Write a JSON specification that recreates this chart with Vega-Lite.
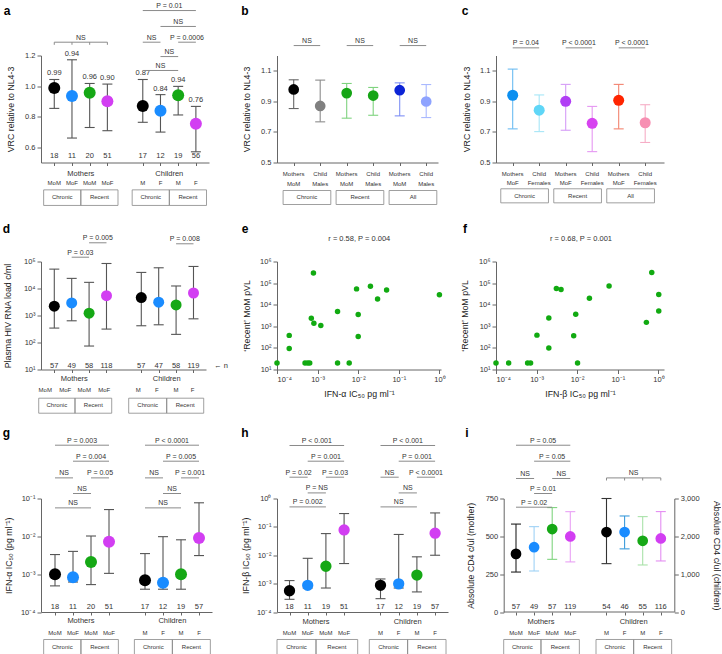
{
"$schema":"https://vega.github.io/schema/vega-lite/v6.json",
"padding":{"left":2,"top":1.5,"right":0,"bottom":0},
"config":{"font":"Liberation Sans","view":{"stroke":null},
 "axis":{"domainColor":"#666","tickColor":"#666","labelColor":"#333","titleColor":"#222","labelFontSize":7.5,"titleFontSize":8.8,"titleFontWeight":"normal","grid":false,"tickSize":4,"labelPadding":2,"domainWidth":1,"tickWidth":1,"labelFont":"Liberation Sans","titleFont":"Liberation Sans","labelOverlap":false},
 "text":{"font":"Liberation Sans"}},
"datasets":{
 "a":[
  {"x":1,"grp":"Chronic, male","cat":"MoM","mean":0.987,"lo":0.854,"hi":1.043,"n":"18","lab":"0.99"},
  {"x":2,"grp":"Chronic, female","cat":"MoF","mean":0.935,"lo":0.66,"hi":1.172,"n":"11","lab":"0.94"},
  {"x":3,"grp":"Recent, male","cat":"MoM","mean":0.957,"lo":0.729,"hi":1.017,"n":"20","lab":"0.96"},
  {"x":4,"grp":"Recent, female","cat":"MoF","mean":0.90,"lo":0.708,"hi":1.013,"n":"51","lab":"0.90"},
  {"x":6,"grp":"Chronic, male","cat":"M","mean":0.869,"lo":0.763,"hi":1.043,"n":"17","lab":"0.87"},
  {"x":7,"grp":"Chronic, female","cat":"F","mean":0.839,"lo":0.699,"hi":0.944,"n":"12","lab":"0.84"},
  {"x":8,"grp":"Recent, male","cat":"M","mean":0.94,"lo":0.811,"hi":0.998,"n":"19","lab":"0.94"},
  {"x":9,"grp":"Recent, female","cat":"F","mean":0.753,"lo":0.57,"hi":0.867,"n":"56","lab":"0.76"}],
 "aBr":[
  {"x1":1,"x2":4,"xm":2.5,"y":1.287,"t":"NS"},
  {"x1":6,"x2":9,"xm":7.5,"y":1.494,"t":"P = 0.01"},
  {"x1":7,"x2":9,"xm":8,"y":1.39,"t":"NS"},
  {"x1":6,"x2":7,"xm":6.5,"y":1.287,"t":"NS"},
  {"x1":8,"x2":9,"xm":8.5,"y":1.287,"t":"P = 0.0006"},
  {"x1":7,"x2":8,"xm":7.5,"y":1.193,"t":"NS"},
  {"x1":6,"x2":8,"xm":7,"y":1.102,"t":"NS"}],
 "aDrop":[{"x":1,"y1":1.287,"y2":1.27},{"x":2,"y1":1.287,"y2":1.27},{"x":3,"y1":1.287,"y2":1.27},{"x":4,"y1":1.287,"y2":1.27}],
 "aGrp":[{"x":2.5,"t":"Mothers"},{"x":7.5,"t":"Children"}],
 "aBox":[{"x1":0.4,"x2":2.5,"xm":1.45,"t":"Chronic"},{"x1":2.5,"x2":4.6,"xm":3.55,"t":"Recent"},{"x1":5.4,"x2":7.5,"xm":6.45,"t":"Chronic"},{"x1":7.5,"x2":9.6,"xm":8.55,"t":"Recent"}],
 "b":[
  {"x":1,"grp":"Mothers, chronic","l1":"Mothers","l2":"MoM","mean":0.978,"lo":0.853,"hi":1.041},
  {"x":2,"grp":"Child, chronic","l1":"Child","l2":"Males","mean":0.870,"lo":0.766,"hi":1.039},
  {"x":3,"grp":"Mothers, recent","l1":"Mothers","l2":"MoM","mean":0.954,"lo":0.790,"hi":1.017},
  {"x":4,"grp":"Child, recent","l1":"Child","l2":"Males","mean":0.938,"lo":0.809,"hi":0.991},
  {"x":5,"grp":"Mothers, all","l1":"Mothers","l2":"MoM","mean":0.973,"lo":0.805,"hi":1.021},
  {"x":6,"grp":"Child, all","l1":"Child","l2":"Males","mean":0.899,"lo":0.794,"hi":1.010}],
 "bBr":[{"x1":1,"x2":2,"xm":1.5,"y":1.265,"t":"NS"},{"x1":3,"x2":4,"xm":3.5,"y":1.265,"t":"NS"},{"x1":5,"x2":6,"xm":5.5,"y":1.265,"t":"NS"}],
 "bBox":[{"x1":0.6,"x2":2.4,"xm":1.5,"t":"Chronic"},{"x1":2.6,"x2":4.4,"xm":3.5,"t":"Recent"},{"x1":4.6,"x2":6.4,"xm":5.5,"t":"All"}],
 "c":[
  {"x":1,"grp":"Mothers, chronic","l1":"Mothers","l2":"MoF","mean":0.940,"lo":0.72,"hi":1.111},
  {"x":2,"grp":"Child, chronic","l1":"Child","l2":"Females","mean":0.842,"lo":0.702,"hi":0.942},
  {"x":3,"grp":"Mothers, recent","l1":"Mothers","l2":"MoF","mean":0.900,"lo":0.711,"hi":1.011},
  {"x":4,"grp":"Child, recent","l1":"Child","l2":"Females","mean":0.756,"lo":0.571,"hi":0.867},
  {"x":5,"grp":"Mothers, all","l1":"Mothers","l2":"MoF","mean":0.907,"lo":0.72,"hi":1.011},
  {"x":6,"grp":"Child, all","l1":"Child","l2":"Females","mean":0.760,"lo":0.631,"hi":0.878}],
 "cBr":[{"x1":1,"x2":2,"xm":1.5,"y":1.25,"t":"P = 0.04"},{"x1":3,"x2":4,"xm":3.5,"y":1.25,"t":"P < 0.0001"},{"x1":5,"x2":6,"xm":5.5,"y":1.25,"t":"P < 0.0001"}],
 "cBox":[{"x1":0.55,"x2":2.35,"xm":1.45,"t":"Chronic"},{"x1":2.55,"x2":4.35,"xm":3.45,"t":"Recent"},{"x1":4.55,"x2":6.35,"xm":5.45,"t":"All"}],
 "d":[
  {"x":1,"grp":"Chronic, male","mean":2210,"lo":342,"hi":52200,"n":"57"},
  {"x":2,"grp":"Chronic, female","mean":2930,"lo":637,"hi":23700,"n":"49"},
  {"x":3,"grp":"Recent, male","mean":1220,"lo":74,"hi":16900,"n":"58"},
  {"x":4,"grp":"Recent, female","mean":5440,"lo":314,"hi":84400,"n":"118"},
  {"x":6,"grp":"Chronic, male","mean":4600,"lo":417,"hi":39400,"n":"57"},
  {"x":7,"grp":"Chronic, female","mean":3100,"lo":453,"hi":58500,"n":"47"},
  {"x":8,"grp":"Recent, male","mean":2470,"lo":200,"hi":12400,"n":"58"},
  {"x":9,"grp":"Recent, female","mean":6820,"lo":753,"hi":65500,"n":"119"}],
 "dCat":[{"x":0.48,"t":"MoM"},{"x":1.63,"t":"MoF"},{"x":2.72,"t":"MoM"},{"x":3.87,"t":"MoF"},{"x":5.83,"t":"M"},{"x":6.9,"t":"F"},{"x":8.0,"t":"M"},{"x":8.95,"t":"F"}],
 "dBr":[{"x1":2,"x2":3,"xm":2.5,"y":144200,"t":"P = 0.03"},{"x1":3,"x2":4,"xm":3.5,"y":493000,"t":"P = 0.005"},{"x1":8,"x2":9,"xm":8.5,"y":452900,"t":"P = 0.008"}],
 "dGrp":[{"x":2.15,"t":"Mothers"},{"x":7.46,"t":"Children"}],
 "dBox":[{"x1":0.104,"x2":2.19,"xm":1.147,"t":"Chronic"},{"x1":2.19,"x2":4.3,"xm":3.245,"t":"Recent"},{"x1":5.276,"x2":7.46,"xm":6.368,"t":"Chronic"},{"x1":7.46,"x2":9.587,"xm":8.52,"t":"Recent"}],
 "e":[{"ic":0.0001,"vl":20},{"ic":0.0002,"vl":94},{"ic":0.0002,"vl":380},{"ic":0.00049,"vl":20},{"ic":0.00057,"vl":20},{"ic":0.00064,"vl":20},{"ic":0.0007,"vl":2340},{"ic":0.00079,"vl":290000},{"ic":0.00081,"vl":1400},{"ic":0.0012,"vl":1100},{"ic":0.0031,"vl":4900},{"ic":0.0031,"vl":20},{"ic":0.006,"vl":20},{"ic":0.0091,"vl":54000},{"ic":0.01,"vl":3500},{"ic":0.01,"vl":340},{"ic":0.02,"vl":71000},{"ic":0.03,"vl":18500},{"ic":0.05,"vl":48000},{"ic":1.0,"vl":29000}],
 "f":[{"ic":0.0001,"vl":20},{"ic":0.000205,"vl":20},{"ic":0.0006,"vl":20},{"ic":0.00071,"vl":20},{"ic":0.00102,"vl":390},{"ic":0.002,"vl":100},{"ic":0.002,"vl":2400},{"ic":0.00307,"vl":56000},{"ic":0.004,"vl":50000},{"ic":0.0082,"vl":365},{"ic":0.0092,"vl":3570},{"ic":0.0102,"vl":20},{"ic":0.02,"vl":20000},{"ic":0.061,"vl":74000},{"ic":0.506,"vl":1520},{"ic":0.686,"vl":310000},{"ic":1.02,"vl":30000},{"ic":1.02,"vl":5100}],
 "g":[
  {"x":1,"grp":"Chronic, male","cat":"MoM","mean":0.001,"lo":0.00049,"hi":0.0033,"n":"18"},
  {"x":2,"grp":"Chronic, female","cat":"MoF","mean":0.00083,"lo":0.00062,"hi":0.004,"n":"11"},
  {"x":3,"grp":"Recent, male","cat":"MoM","mean":0.0021,"lo":0.00053,"hi":0.0102,"n":"20"},
  {"x":4,"grp":"Recent, female","cat":"MoF","mean":0.0072,"lo":0.00105,"hi":0.051,"n":"51"},
  {"x":6,"grp":"Chronic, male","cat":"M","mean":0.00069,"lo":0.0004,"hi":0.0035,"n":"17"},
  {"x":7,"grp":"Chronic, female","cat":"F","mean":0.00059,"lo":0.0004,"hi":0.0098,"n":"12"},
  {"x":8,"grp":"Recent, male","cat":"M","mean":0.001,"lo":0.0004,"hi":0.0081,"n":"19"},
  {"x":9,"grp":"Recent, female","cat":"F","mean":0.0091,"lo":0.0031,"hi":0.077,"n":"57"}],
 "gBr":[
  {"x1":1,"x2":4,"xm":2.5,"y":2.565,"t":"P = 0.003"},
  {"x1":2,"x2":4,"xm":3,"y":0.968,"t":"P = 0.004"},
  {"x1":1,"x2":2,"xm":1.5,"y":0.3508,"t":"NS"},
  {"x1":3,"x2":4,"xm":3.5,"y":0.3508,"t":"P = 0.05"},
  {"x1":2,"x2":3,"xm":2.5,"y":0.1355,"t":"NS"},
  {"x1":1,"x2":3,"xm":2,"y":0.05649,"t":"NS"},
  {"x1":6,"x2":9,"xm":7.5,"y":2.565,"t":"P < 0.0001"},
  {"x1":7,"x2":9,"xm":8,"y":0.968,"t":"P = 0.005"},
  {"x1":6,"x2":7,"xm":6.5,"y":0.3508,"t":"NS"},
  {"x1":8,"x2":9,"xm":8.5,"y":0.3508,"t":"P = 0.001"},
  {"x1":7,"x2":8,"xm":7.5,"y":0.1355,"t":"NS"},
  {"x1":6,"x2":8,"xm":7,"y":0.05649,"t":"NS"}],
 "gGrp":[{"x":2.44,"t":"Mothers"},{"x":7.52,"t":"Children"}],
 "gBox":[{"x1":0.37,"x2":2.44,"xm":1.405,"t":"Chronic"},{"x1":2.44,"x2":4.52,"xm":3.48,"t":"Recent"},{"x1":5.41,"x2":7.52,"xm":6.465,"t":"Chronic"},{"x1":7.52,"x2":9.63,"xm":8.575,"t":"Recent"}],
 "h":[
  {"x":1,"grp":"Chronic, male","cat":"MoM","mean":0.00056,"lo":0.00028,"hi":0.00128,"n":"18"},
  {"x":2,"grp":"Chronic, female","cat":"MoF","mean":0.00087,"lo":0.0007,"hi":0.0078,"n":"11"},
  {"x":3,"grp":"Recent, male","cat":"MoM","mean":0.0041,"lo":0.0007,"hi":0.058,"n":"19"},
  {"x":4,"grp":"Recent, female","cat":"MoF","mean":0.078,"lo":0.0051,"hi":0.295,"n":"51"},
  {"x":6,"grp":"Chronic, male","cat":"M","mean":0.00087,"lo":0.000295,"hi":0.00146,"n":"17"},
  {"x":7,"grp":"Chronic, female","cat":"F","mean":0.00098,"lo":0.0007,"hi":0.054,"n":"12"},
  {"x":8,"grp":"Recent, male","cat":"M","mean":0.002,"lo":0.00051,"hi":0.0088,"n":"19"},
  {"x":9,"grp":"Recent, female","cat":"F","mean":0.06,"lo":0.01,"hi":0.31,"n":"57"}],
 "hBr":[
  {"x1":1,"x2":4,"xm":2.5,"y":73.8,"t":"P < 0.001"},
  {"x1":2,"x2":4,"xm":3,"y":20.65,"t":"P = 0.001"},
  {"x1":1,"x2":2,"xm":1.5,"y":5.636,"t":"P = 0.02"},
  {"x1":3,"x2":4,"xm":3.5,"y":5.636,"t":"P = 0.03"},
  {"x1":2,"x2":3,"xm":2.5,"y":1.574,"t":"P = NS"},
  {"x1":1,"x2":3,"xm":2,"y":0.5058,"t":"P = 0.002"},
  {"x1":6,"x2":9,"xm":7.5,"y":73.8,"t":"P < 0.001"},
  {"x1":7,"x2":9,"xm":8,"y":20.65,"t":"P = 0.001"},
  {"x1":6,"x2":7,"xm":6.5,"y":5.636,"t":"NS"},
  {"x1":8,"x2":9,"xm":8.5,"y":5.636,"t":"P < 0.0001"},
  {"x1":7,"x2":8,"xm":7.5,"y":1.574,"t":"NS"},
  {"x1":6,"x2":8,"xm":7,"y":0.5058,"t":"NS"}],
 "hGrp":[{"x":2.456,"t":"Mothers"},{"x":7.49,"t":"Children"}],
 "hBox":[{"x1":0.313,"x2":2.456,"xm":1.385,"t":"Chronic"},{"x1":2.456,"x2":4.747,"xm":3.6,"t":"Recent"},{"x1":5.385,"x2":7.49,"xm":6.44,"t":"Chronic"},{"x1":7.49,"x2":9.6,"xm":8.545,"t":"Recent"}],
 "iM":[
  {"x":1,"grp":"Chronic, male","id":"MoM chronic","cat":"MoM","mean":384,"lo":264,"hi":581,"n":"57"},
  {"x":2,"grp":"Chronic, female","id":"MoF chronic","cat":"MoF","mean":428,"lo":271,"hi":564,"n":"49"},
  {"x":3,"grp":"Recent, male","id":"MoM recent","cat":"MoM","mean":548,"lo":348,"hi":690,"n":"57"},
  {"x":4,"grp":"Recent, female","id":"MoF recent","cat":"MoF","mean":499,"lo":331,"hi":663,"n":"119"}],
 "iC":[
  {"x":6,"grp":"Chronic, male","id":"M chronic","cat":"M","mean":2113,"lo":1278,"hi":3000,"n":"54"},
  {"x":7,"grp":"Chronic, female","id":"F chronic","cat":"F","mean":2113,"lo":1669,"hi":2538,"n":"46"},
  {"x":8,"grp":"Recent, male","id":"M recent","cat":"M","mean":1882,"lo":1243,"hi":2521,"n":"55"},
  {"x":9,"grp":"Recent, female","id":"F recent","cat":"F","mean":1944,"lo":1349,"hi":2654,"n":"116"}],
 "iBr":[
  {"x1":1,"x2":4,"xm":2.5,"y":1102,"t":"P = 0.05"},
  {"x1":2,"x2":4,"xm":3,"y":996.5,"t":"P = 0.05"},
  {"x1":1,"x2":2,"xm":1.5,"y":882.2,"t":"NS"},
  {"x1":3,"x2":4,"xm":3.5,"y":882.2,"t":"NS"},
  {"x1":2,"x2":3,"xm":2.5,"y":783,"t":"P = 0.01"},
  {"x1":1,"x2":3,"xm":2,"y":692.5,"t":"P = 0.02"},
  {"x1":6,"x2":9,"xm":7.5,"y":886,"t":"NS"}],
 "iDrop":[{"x":6,"y1":886,"y2":869},{"x":7,"y1":886,"y2":869},{"x":8,"y1":886,"y2":869},{"x":9,"y1":886,"y2":869}],
 "iGrp":[{"x":2.38,"t":"Mothers"},{"x":7.5,"t":"Children"}],
 "iBox":[{"x1":0.32,"x2":2.38,"xm":1.35,"t":"Chronic"},{"x1":2.38,"x2":4.5,"xm":3.44,"t":"Recent"},{"x1":5.42,"x2":7.5,"xm":6.46,"t":"Chronic"},{"x1":7.5,"x2":9.6,"xm":8.55,"t":"Recent"}]
},
"columns":5,"spacing":0,"bounds":"flush",
"resolve":{"scale":{"fill":"independent","stroke":"independent"}},
"concat":[
 {"width":168,"height":107,"layer":[
  {"data":{"name":"a"},"mark":{"type":"rule","color":"#555","strokeWidth":1.1},"encoding":{"x":{"field":"x","type":"quantitative","scale":{"domain":[0.25,9.741],"nice":false,"zero":false},"axis":{"values":[1,2,3,4,6,7,8,9],"labels":false,"tickSize":3,"title":null}},"y":{"field":"lo","type":"quantitative","scale":{"domain":[0.5,1.2],"nice":false,"zero":false},"axis":{"values":[0.6,0.8,1.0,1.2],"format":".1f","title":"VRC relative to NL4-3","titlePadding":9,"labelOverlap":false}},"y2":{"field":"hi"}}},
  {"data":{"name":"a"},"mark":{"type":"point","shape":"stroke","size":100,"color":"#555","strokeWidth":1.1,"opacity":1},"encoding":{"x":{"field":"x","type":"quantitative","axis":{"values":[1,2,3,4,6,7,8,9],"labels":false,"tickSize":3,"title":null}},"y":{"field":"hi","type":"quantitative","axis":{"values":[0.6,0.8,1.0,1.2],"format":".1f","title":"VRC relative to NL4-3","titlePadding":9,"labelOverlap":false}}}},
  {"data":{"name":"a"},"mark":{"type":"point","shape":"stroke","size":100,"color":"#555","strokeWidth":1.1,"opacity":1},"encoding":{"x":{"field":"x","type":"quantitative","axis":{"values":[1,2,3,4,6,7,8,9],"labels":false,"tickSize":3,"title":null}},"y":{"field":"lo","type":"quantitative","axis":{"values":[0.6,0.8,1.0,1.2],"format":".1f","title":"VRC relative to NL4-3","titlePadding":9,"labelOverlap":false}}}},
  {"data":{"name":"a"},"mark":{"type":"circle","size":144,"opacity":1},"encoding":{"x":{"field":"x","type":"quantitative","axis":{"values":[1,2,3,4,6,7,8,9],"labels":false,"tickSize":3,"title":null}},"y":{"field":"mean","type":"quantitative","axis":{"values":[0.6,0.8,1.0,1.2],"format":".1f","title":"VRC relative to NL4-3","titlePadding":9,"labelOverlap":false}},"fill":{"field":"grp","type":"nominal","scale":{"domain":["Chronic, male","Chronic, female","Recent, male","Recent, female"],"range":["#000000","#1a8cff","#15a815","#d23ef2"]},"legend":null}}},
  {"data":{"name":"a"},"mark":{"type":"text","baseline":"bottom","dy":-2,"fontSize":7.5,"color":"#333"},"encoding":{"x":{"field":"x","type":"quantitative","axis":{"values":[1,2,3,4,6,7,8,9],"labels":false,"tickSize":3,"title":null}},"y":{"field":"hi","type":"quantitative","axis":{"values":[0.6,0.8,1.0,1.2],"format":".1f","title":"VRC relative to NL4-3","titlePadding":9,"labelOverlap":false}},"text":{"field":"lab","type":"nominal"}}},
  {"data":{"name":"a"},"mark":{"type":"text","baseline":"middle","fontSize":7.5,"color":"#333"},"encoding":{"x":{"field":"x","type":"quantitative","axis":{"values":[1,2,3,4,6,7,8,9],"labels":false,"tickSize":3,"title":null}},"y":{"datum":0.541,"type":"quantitative","axis":{"values":[0.6,0.8,1.0,1.2],"format":".1f","title":"VRC relative to NL4-3","titlePadding":9,"labelOverlap":false}},"text":{"field":"n","type":"nominal"}}},
  {"data":{"name":"a"},"mark":{"type":"text","baseline":"middle","fontSize":6,"color":"#333"},"encoding":{"x":{"field":"x","type":"quantitative","axis":{"values":[1,2,3,4,6,7,8,9],"labels":false,"tickSize":3,"title":null}},"y":{"datum":0.365,"type":"quantitative","axis":{"values":[0.6,0.8,1.0,1.2],"format":".1f","title":"VRC relative to NL4-3","titlePadding":9,"labelOverlap":false}},"text":{"field":"cat","type":"nominal"}}},
  {"data":{"name":"aBr"},"mark":{"type":"rule","color":"#8a8a8a","strokeWidth":1},"encoding":{"x":{"field":"x1","type":"quantitative","axis":{"values":[1,2,3,4,6,7,8,9],"labels":false,"tickSize":3,"title":null}},"x2":{"field":"x2"},"y":{"field":"y","type":"quantitative","axis":{"values":[0.6,0.8,1.0,1.2],"format":".1f","title":"VRC relative to NL4-3","titlePadding":9,"labelOverlap":false}}}},
  {"data":{"name":"aBr"},"mark":{"type":"text","baseline":"bottom","dy":-1.5,"fontSize":7,"color":"#333"},"encoding":{"x":{"field":"xm","type":"quantitative","axis":{"values":[1,2,3,4,6,7,8,9],"labels":false,"tickSize":3,"title":null}},"y":{"field":"y","type":"quantitative","axis":{"values":[0.6,0.8,1.0,1.2],"format":".1f","title":"VRC relative to NL4-3","titlePadding":9,"labelOverlap":false}},"text":{"field":"t","type":"nominal"}}},
  {"data":{"name":"aDrop"},"mark":{"type":"rule","color":"#8a8a8a","strokeWidth":1},"encoding":{"x":{"field":"x","type":"quantitative","axis":{"values":[1,2,3,4,6,7,8,9],"labels":false,"tickSize":3,"title":null}},"y":{"field":"y1","type":"quantitative","axis":{"values":[0.6,0.8,1.0,1.2],"format":".1f","title":"VRC relative to NL4-3","titlePadding":9,"labelOverlap":false}},"y2":{"field":"y2"}}},
  {"data":{"name":"aGrp"},"mark":{"type":"text","baseline":"middle","fontSize":7.5,"color":"#333"},"encoding":{"x":{"field":"x","type":"quantitative","axis":{"values":[1,2,3,4,6,7,8,9],"labels":false,"tickSize":3,"title":null}},"y":{"datum":0.426,"type":"quantitative","axis":{"values":[0.6,0.8,1.0,1.2],"format":".1f","title":"VRC relative to NL4-3","titlePadding":9,"labelOverlap":false}},"text":{"field":"t","type":"nominal"}}},
  {"data":{"name":"aBox"},"mark":{"type":"rect","filled":false,"color":"#888","strokeWidth":0.8},"encoding":{"x":{"field":"x1","type":"quantitative","axis":{"values":[1,2,3,4,6,7,8,9],"labels":false,"tickSize":3,"title":null}},"x2":{"field":"x2"},"y":{"datum":0.321,"type":"quantitative","axis":{"values":[0.6,0.8,1.0,1.2],"format":".1f","title":"VRC relative to NL4-3","titlePadding":9,"labelOverlap":false}},"y2":{"datum":0.219}}},
  {"data":{"name":"aBox"},"mark":{"type":"text","baseline":"middle","fontSize":6,"color":"#333"},"encoding":{"x":{"field":"xm","type":"quantitative","axis":{"values":[1,2,3,4,6,7,8,9],"labels":false,"tickSize":3,"title":null}},"y":{"datum":0.273,"type":"quantitative","axis":{"values":[0.6,0.8,1.0,1.2],"format":".1f","title":"VRC relative to NL4-3","titlePadding":9,"labelOverlap":false}},"text":{"field":"t","type":"nominal"}}},
  {"data":{"values":[{}]},"mark":{"type":"text","text":"a","fontSize":12,"fontWeight":"bold","color":"#000","baseline":"middle"},"encoding":{"x":{"datum":-1.671,"type":"quantitative","axis":{"values":[1,2,3,4,6,7,8,9],"labels":false,"tickSize":3,"title":null}},"y":{"datum":1.492,"type":"quantitative","axis":{"values":[0.6,0.8,1.0,1.2],"format":".1f","title":"VRC relative to NL4-3","titlePadding":9,"labelOverlap":false}}}}
 ]},
 {"width":65,"height":206,"data":{"values":[{}]},"mark":{"type":"text","text":""},"encoding":{}},
 {"width":161,"height":107,"layer":[
  {"data":{"name":"b"},"mark":{"type":"rule","strokeWidth":1.1},"encoding":{"x":{"field":"x","type":"quantitative","scale":{"domain":[0.37,6.445],"nice":false,"zero":false},"axis":{"values":[1,2,3,4,5,6],"labels":false,"tickSize":3,"title":null}},"y":{"field":"lo","type":"quantitative","scale":{"domain":[0.5,1.2],"nice":false,"zero":false},"axis":{"values":[0.5,0.7,0.9,1.1],"format":".1f","title":"VRC relative to NL4-3","titlePadding":9.5,"labelOverlap":false}},"y2":{"field":"hi"},"stroke":{"field":"grp","type":"nominal","scale":{"domain":["Mothers, chronic","Child, chronic","Mothers, recent","Child, recent","Mothers, all","Child, all"],"range":["#666666","#8c8c8c","#7fd37f","#7fd37f","#7f90f5","#aab9ff"]},"legend":null}}},
  {"data":{"name":"b"},"mark":{"type":"point","shape":"stroke","size":100,"strokeWidth":1.1,"opacity":1},"encoding":{"x":{"field":"x","type":"quantitative","axis":{"values":[1,2,3,4,5,6],"labels":false,"tickSize":3,"title":null}},"y":{"field":"hi","type":"quantitative","axis":{"values":[0.5,0.7,0.9,1.1],"format":".1f","title":"VRC relative to NL4-3","titlePadding":9.5,"labelOverlap":false}},"stroke":{"field":"grp","type":"nominal","legend":null}}},
  {"data":{"name":"b"},"mark":{"type":"point","shape":"stroke","size":100,"strokeWidth":1.1,"opacity":1},"encoding":{"x":{"field":"x","type":"quantitative","axis":{"values":[1,2,3,4,5,6],"labels":false,"tickSize":3,"title":null}},"y":{"field":"lo","type":"quantitative","axis":{"values":[0.5,0.7,0.9,1.1],"format":".1f","title":"VRC relative to NL4-3","titlePadding":9.5,"labelOverlap":false}},"stroke":{"field":"grp","type":"nominal","legend":null}}},
  {"data":{"name":"b"},"mark":{"type":"circle","size":115,"opacity":1},"encoding":{"x":{"field":"x","type":"quantitative","axis":{"values":[1,2,3,4,5,6],"labels":false,"tickSize":3,"title":null}},"y":{"field":"mean","type":"quantitative","axis":{"values":[0.5,0.7,0.9,1.1],"format":".1f","title":"VRC relative to NL4-3","titlePadding":9.5,"labelOverlap":false}},"fill":{"field":"grp","type":"nominal","scale":{"domain":["Mothers, chronic","Child, chronic","Mothers, recent","Child, recent","Mothers, all","Child, all"],"range":["#000000","#808080","#16a516","#16a516","#0c24d6","#8ea3ff"]},"legend":null}}},
  {"data":{"name":"b"},"mark":{"type":"text","baseline":"middle","fontSize":6,"color":"#333"},"encoding":{"x":{"field":"x","type":"quantitative","axis":{"values":[1,2,3,4,5,6],"labels":false,"tickSize":3,"title":null}},"y":{"datum":0.4215,"type":"quantitative","axis":{"values":[0.5,0.7,0.9,1.1],"format":".1f","title":"VRC relative to NL4-3","titlePadding":9.5,"labelOverlap":false}},"text":{"field":"l1","type":"nominal"}}},
  {"data":{"name":"b"},"mark":{"type":"text","baseline":"middle","fontSize":6,"color":"#333"},"encoding":{"x":{"field":"x","type":"quantitative","axis":{"values":[1,2,3,4,5,6],"labels":false,"tickSize":3,"title":null}},"y":{"datum":0.3607,"type":"quantitative","axis":{"values":[0.5,0.7,0.9,1.1],"format":".1f","title":"VRC relative to NL4-3","titlePadding":9.5,"labelOverlap":false}},"text":{"field":"l2","type":"nominal"}}},
  {"data":{"name":"bBr"},"mark":{"type":"rule","color":"#8a8a8a","strokeWidth":1},"encoding":{"x":{"field":"x1","type":"quantitative","axis":{"values":[1,2,3,4,5,6],"labels":false,"tickSize":3,"title":null}},"x2":{"field":"x2"},"y":{"field":"y","type":"quantitative","axis":{"values":[0.5,0.7,0.9,1.1],"format":".1f","title":"VRC relative to NL4-3","titlePadding":9.5,"labelOverlap":false}}}},
  {"data":{"name":"bBr"},"mark":{"type":"text","baseline":"bottom","dy":-1.5,"fontSize":7,"color":"#333"},"encoding":{"x":{"field":"xm","type":"quantitative","axis":{"values":[1,2,3,4,5,6],"labels":false,"tickSize":3,"title":null}},"y":{"field":"y","type":"quantitative","axis":{"values":[0.5,0.7,0.9,1.1],"format":".1f","title":"VRC relative to NL4-3","titlePadding":9.5,"labelOverlap":false}},"text":{"field":"t","type":"nominal"}}},
  {"data":{"name":"bBox"},"mark":{"type":"rect","filled":false,"color":"#888","strokeWidth":0.8},"encoding":{"x":{"field":"x1","type":"quantitative","axis":{"values":[1,2,3,4,5,6],"labels":false,"tickSize":3,"title":null}},"x2":{"field":"x2"},"y":{"datum":0.3168,"type":"quantitative","axis":{"values":[0.5,0.7,0.9,1.1],"format":".1f","title":"VRC relative to NL4-3","titlePadding":9.5,"labelOverlap":false}},"y2":{"datum":0.2252}}},
  {"data":{"name":"bBox"},"mark":{"type":"text","baseline":"middle","fontSize":6,"color":"#333"},"encoding":{"x":{"field":"xm","type":"quantitative","axis":{"values":[1,2,3,4,5,6],"labels":false,"tickSize":3,"title":null}},"y":{"datum":0.273,"type":"quantitative","axis":{"values":[0.5,0.7,0.9,1.1],"format":".1f","title":"VRC relative to NL4-3","titlePadding":9.5,"labelOverlap":false}},"text":{"field":"t","type":"nominal"}}},
  {"data":{"values":[{}]},"mark":{"type":"text","text":"b","fontSize":12,"fontWeight":"bold","color":"#000","baseline":"middle"},"encoding":{"x":{"datum":-0.838,"type":"quantitative","axis":{"values":[1,2,3,4,5,6],"labels":false,"tickSize":3,"title":null}},"y":{"datum":1.492,"type":"quantitative","axis":{"values":[0.5,0.7,0.9,1.1],"format":".1f","title":"VRC relative to NL4-3","titlePadding":9.5,"labelOverlap":false}}}}
 ]},
 {"width":48,"height":1,"data":{"values":[{}]},"mark":{"type":"text","text":""},"encoding":{}},
 {"width":168,"height":107,"layer":[
  {"data":{"name":"c"},"mark":{"type":"rule","strokeWidth":1.1},"encoding":{"x":{"field":"x","type":"quantitative","scale":{"domain":[0.37,6.71],"nice":false,"zero":false},"axis":{"values":[1,2,3,4,5,6],"labels":false,"tickSize":3,"title":null}},"y":{"field":"lo","type":"quantitative","scale":{"domain":[0.5,1.2],"nice":false,"zero":false},"axis":{"values":[0.5,0.7,0.9,1.1],"format":".1f","title":"VRC relative to NL4-3","titlePadding":8,"labelOverlap":false}},"y2":{"field":"hi"},"stroke":{"field":"grp","type":"nominal","scale":{"domain":["Mothers, chronic","Child, chronic","Mothers, recent","Child, recent","Mothers, all","Child, all"],"range":["#6cbcf2","#a6e6f7","#d59cf7","#e597f2","#f3836f","#f6adc6"]},"legend":null}}},
  {"data":{"name":"c"},"mark":{"type":"point","shape":"stroke","size":100,"strokeWidth":1.1,"opacity":1},"encoding":{"x":{"field":"x","type":"quantitative","axis":{"values":[1,2,3,4,5,6],"labels":false,"tickSize":3,"title":null}},"y":{"field":"hi","type":"quantitative","axis":{"values":[0.5,0.7,0.9,1.1],"format":".1f","title":"VRC relative to NL4-3","titlePadding":8,"labelOverlap":false}},"stroke":{"field":"grp","type":"nominal","legend":null}}},
  {"data":{"name":"c"},"mark":{"type":"point","shape":"stroke","size":100,"strokeWidth":1.1,"opacity":1},"encoding":{"x":{"field":"x","type":"quantitative","axis":{"values":[1,2,3,4,5,6],"labels":false,"tickSize":3,"title":null}},"y":{"field":"lo","type":"quantitative","axis":{"values":[0.5,0.7,0.9,1.1],"format":".1f","title":"VRC relative to NL4-3","titlePadding":8,"labelOverlap":false}},"stroke":{"field":"grp","type":"nominal","legend":null}}},
  {"data":{"name":"c"},"mark":{"type":"circle","size":121,"opacity":1},"encoding":{"x":{"field":"x","type":"quantitative","axis":{"values":[1,2,3,4,5,6],"labels":false,"tickSize":3,"title":null}},"y":{"field":"mean","type":"quantitative","axis":{"values":[0.5,0.7,0.9,1.1],"format":".1f","title":"VRC relative to NL4-3","titlePadding":8,"labelOverlap":false}},"fill":{"field":"grp","type":"nominal","scale":{"domain":["Mothers, chronic","Child, chronic","Mothers, recent","Child, recent","Mothers, all","Child, all"],"range":["#0c8ff0","#5fd6f7","#b13ef5","#d743f0","#ff2400","#f78fb2"]},"legend":null}}},
  {"data":{"name":"c"},"mark":{"type":"text","baseline":"middle","fontSize":6,"color":"#333"},"encoding":{"x":{"field":"x","type":"quantitative","axis":{"values":[1,2,3,4,5,6],"labels":false,"tickSize":3,"title":null}},"y":{"datum":0.426,"type":"quantitative","axis":{"values":[0.5,0.7,0.9,1.1],"format":".1f","title":"VRC relative to NL4-3","titlePadding":8,"labelOverlap":false}},"text":{"field":"l1","type":"nominal"}}},
  {"data":{"name":"c"},"mark":{"type":"text","baseline":"middle","fontSize":6,"color":"#333"},"encoding":{"x":{"field":"x","type":"quantitative","axis":{"values":[1,2,3,4,5,6],"labels":false,"tickSize":3,"title":null}},"y":{"datum":0.365,"type":"quantitative","axis":{"values":[0.5,0.7,0.9,1.1],"format":".1f","title":"VRC relative to NL4-3","titlePadding":8,"labelOverlap":false}},"text":{"field":"l2","type":"nominal"}}},
  {"data":{"name":"cBr"},"mark":{"type":"rule","color":"#8a8a8a","strokeWidth":1},"encoding":{"x":{"field":"x1","type":"quantitative","axis":{"values":[1,2,3,4,5,6],"labels":false,"tickSize":3,"title":null}},"x2":{"field":"x2"},"y":{"field":"y","type":"quantitative","axis":{"values":[0.5,0.7,0.9,1.1],"format":".1f","title":"VRC relative to NL4-3","titlePadding":8,"labelOverlap":false}}}},
  {"data":{"name":"cBr"},"mark":{"type":"text","baseline":"bottom","dy":-1.5,"fontSize":7,"color":"#333"},"encoding":{"x":{"field":"xm","type":"quantitative","axis":{"values":[1,2,3,4,5,6],"labels":false,"tickSize":3,"title":null}},"y":{"field":"y","type":"quantitative","axis":{"values":[0.5,0.7,0.9,1.1],"format":".1f","title":"VRC relative to NL4-3","titlePadding":8,"labelOverlap":false}},"text":{"field":"t","type":"nominal"}}},
  {"data":{"name":"cBox"},"mark":{"type":"rect","filled":false,"color":"#888","strokeWidth":0.8},"encoding":{"x":{"field":"x1","type":"quantitative","axis":{"values":[1,2,3,4,5,6],"labels":false,"tickSize":3,"title":null}},"x2":{"field":"x2"},"y":{"datum":0.328,"type":"quantitative","axis":{"values":[0.5,0.7,0.9,1.1],"format":".1f","title":"VRC relative to NL4-3","titlePadding":8,"labelOverlap":false}},"y2":{"datum":0.236}}},
  {"data":{"name":"cBox"},"mark":{"type":"text","baseline":"middle","fontSize":6,"color":"#333"},"encoding":{"x":{"field":"xm","type":"quantitative","axis":{"values":[1,2,3,4,5,6],"labels":false,"tickSize":3,"title":null}},"y":{"datum":0.284,"type":"quantitative","axis":{"values":[0.5,0.7,0.9,1.1],"format":".1f","title":"VRC relative to NL4-3","titlePadding":8,"labelOverlap":false}},"text":{"field":"t","type":"nominal"}}},
  {"data":{"values":[{}]},"mark":{"type":"text","text":"c","fontSize":12,"fontWeight":"bold","color":"#000","baseline":"middle"},"encoding":{"x":{"datum":-0.8,"type":"quantitative","axis":{"values":[1,2,3,4,5,6],"labels":false,"tickSize":3,"title":null}},"y":{"datum":1.492,"type":"quantitative","axis":{"values":[0.5,0.7,0.9,1.1],"format":".1f","title":"VRC relative to NL4-3","titlePadding":8,"labelOverlap":false}}}}
 ]},
 {"width":165,"height":108,"layer":[
  {"data":{"name":"d"},"mark":{"type":"rule","color":"#555","strokeWidth":1.1},"encoding":{"x":{"field":"x","type":"quantitative","scale":{"domain":[0.236,9.719],"nice":false,"zero":false},"axis":{"values":[1,2,3,4,6,7,8,9],"labels":false,"tickSize":3,"title":null}},"y":{"field":"lo","type":"quantitative","scale":{"type":"log","domain":[10,100000],"nice":false},"axis":{"values":[10,100,1000,10000,100000],"labelExpr":"'10'+(datum.value<1?'⁻':'')+['⁰','¹','²','³','⁴','⁵','⁶'][round(abs(log(datum.value)/LN10))]","title":"Plasma HIV RNA load c/ml","titlePadding":11,"labelOverlap":false}},"y2":{"field":"hi"}}},
  {"data":{"name":"d"},"mark":{"type":"point","shape":"stroke","size":100,"color":"#555","strokeWidth":1.1,"opacity":1},"encoding":{"x":{"field":"x","type":"quantitative","axis":{"values":[1,2,3,4,6,7,8,9],"labels":false,"tickSize":3,"title":null}},"y":{"field":"hi","type":"quantitative","axis":{"values":[10,100,1000,10000,100000],"labelExpr":"'10'+(datum.value<1?'⁻':'')+['⁰','¹','²','³','⁴','⁵','⁶'][round(abs(log(datum.value)/LN10))]","title":"Plasma HIV RNA load c/ml","titlePadding":11,"labelOverlap":false}}}},
  {"data":{"name":"d"},"mark":{"type":"point","shape":"stroke","size":100,"color":"#555","strokeWidth":1.1,"opacity":1},"encoding":{"x":{"field":"x","type":"quantitative","axis":{"values":[1,2,3,4,6,7,8,9],"labels":false,"tickSize":3,"title":null}},"y":{"field":"lo","type":"quantitative","axis":{"values":[10,100,1000,10000,100000],"labelExpr":"'10'+(datum.value<1?'⁻':'')+['⁰','¹','²','³','⁴','⁵','⁶'][round(abs(log(datum.value)/LN10))]","title":"Plasma HIV RNA load c/ml","titlePadding":11,"labelOverlap":false}}}},
  {"data":{"name":"d"},"mark":{"type":"circle","size":121,"opacity":1},"encoding":{"x":{"field":"x","type":"quantitative","axis":{"values":[1,2,3,4,6,7,8,9],"labels":false,"tickSize":3,"title":null}},"y":{"field":"mean","type":"quantitative","axis":{"values":[10,100,1000,10000,100000],"labelExpr":"'10'+(datum.value<1?'⁻':'')+['⁰','¹','²','³','⁴','⁵','⁶'][round(abs(log(datum.value)/LN10))]","title":"Plasma HIV RNA load c/ml","titlePadding":11,"labelOverlap":false}},"fill":{"field":"grp","type":"nominal","scale":{"domain":["Chronic, male","Chronic, female","Recent, male","Recent, female"],"range":["#000000","#1a8cff","#15a815","#d23ef2"]},"legend":null}}},
  {"data":{"name":"d"},"mark":{"type":"text","baseline":"middle","fontSize":7.5,"color":"#333"},"encoding":{"x":{"field":"x","type":"quantitative","axis":{"values":[1,2,3,4,6,7,8,9],"labels":false,"tickSize":3,"title":null}},"y":{"datum":14.06,"type":"quantitative","axis":{"values":[10,100,1000,10000,100000],"labelExpr":"'10'+(datum.value<1?'⁻':'')+['⁰','¹','²','³','⁴','⁵','⁶'][round(abs(log(datum.value)/LN10))]","title":"Plasma HIV RNA load c/ml","titlePadding":11,"labelOverlap":false}},"text":{"field":"n","type":"nominal"}}},
  {"data":{"values":[{}]},"mark":{"type":"text","text":"← n","baseline":"middle","fontSize":7.5,"color":"#333"},"encoding":{"x":{"datum":10.58,"type":"quantitative","axis":{"values":[1,2,3,4,6,7,8,9],"labels":false,"tickSize":3,"title":null}},"y":{"datum":14.06,"type":"quantitative","axis":{"values":[10,100,1000,10000,100000],"labelExpr":"'10'+(datum.value<1?'⁻':'')+['⁰','¹','²','³','⁴','⁵','⁶'][round(abs(log(datum.value)/LN10))]","title":"Plasma HIV RNA load c/ml","titlePadding":11,"labelOverlap":false}}}},
  {"data":{"name":"dCat"},"mark":{"type":"text","baseline":"middle","fontSize":6,"color":"#333"},"encoding":{"x":{"field":"x","type":"quantitative","axis":{"values":[1,2,3,4,6,7,8,9],"labels":false,"tickSize":3,"title":null}},"y":{"datum":1.77,"type":"quantitative","axis":{"values":[10,100,1000,10000,100000],"labelExpr":"'10'+(datum.value<1?'⁻':'')+['⁰','¹','²','³','⁴','⁵','⁶'][round(abs(log(datum.value)/LN10))]","title":"Plasma HIV RNA load c/ml","titlePadding":11,"labelOverlap":false}},"text":{"field":"t","type":"nominal"}}},
  {"data":{"name":"dBr"},"mark":{"type":"rule","color":"#8a8a8a","strokeWidth":1},"encoding":{"x":{"field":"x1","type":"quantitative","axis":{"values":[1,2,3,4,6,7,8,9],"labels":false,"tickSize":3,"title":null}},"x2":{"field":"x2"},"y":{"field":"y","type":"quantitative","axis":{"values":[10,100,1000,10000,100000],"labelExpr":"'10'+(datum.value<1?'⁻':'')+['⁰','¹','²','³','⁴','⁵','⁶'][round(abs(log(datum.value)/LN10))]","title":"Plasma HIV RNA load c/ml","titlePadding":11,"labelOverlap":false}}}},
  {"data":{"name":"dBr"},"mark":{"type":"text","baseline":"bottom","dy":-1.5,"fontSize":7,"color":"#333"},"encoding":{"x":{"field":"xm","type":"quantitative","axis":{"values":[1,2,3,4,6,7,8,9],"labels":false,"tickSize":3,"title":null}},"y":{"field":"y","type":"quantitative","axis":{"values":[10,100,1000,10000,100000],"labelExpr":"'10'+(datum.value<1?'⁻':'')+['⁰','¹','²','³','⁴','⁵','⁶'][round(abs(log(datum.value)/LN10))]","title":"Plasma HIV RNA load c/ml","titlePadding":11,"labelOverlap":false}},"text":{"field":"t","type":"nominal"}}},
  {"data":{"name":"dGrp"},"mark":{"type":"text","baseline":"middle","fontSize":7.5,"color":"#333"},"encoding":{"x":{"field":"x","type":"quantitative","axis":{"values":[1,2,3,4,6,7,8,9],"labels":false,"tickSize":3,"title":null}},"y":{"datum":4.27,"type":"quantitative","axis":{"values":[10,100,1000,10000,100000],"labelExpr":"'10'+(datum.value<1?'⁻':'')+['⁰','¹','²','³','⁴','⁵','⁶'][round(abs(log(datum.value)/LN10))]","title":"Plasma HIV RNA load c/ml","titlePadding":11,"labelOverlap":false}},"text":{"field":"t","type":"nominal"}}},
  {"data":{"name":"dBox"},"mark":{"type":"rect","filled":false,"color":"#888","strokeWidth":0.8},"encoding":{"x":{"field":"x1","type":"quantitative","axis":{"values":[1,2,3,4,6,7,8,9],"labels":false,"tickSize":3,"title":null}},"x2":{"field":"x2"},"y":{"datum":0.865,"type":"quantitative","axis":{"values":[10,100,1000,10000,100000],"labelExpr":"'10'+(datum.value<1?'⁻':'')+['⁰','¹','²','³','⁴','⁵','⁶'][round(abs(log(datum.value)/LN10))]","title":"Plasma HIV RNA load c/ml","titlePadding":11,"labelOverlap":false}},"y2":{"datum":0.2404}}},
  {"data":{"name":"dBox"},"mark":{"type":"text","baseline":"middle","fontSize":6,"color":"#333"},"encoding":{"x":{"field":"xm","type":"quantitative","axis":{"values":[1,2,3,4,6,7,8,9],"labels":false,"tickSize":3,"title":null}},"y":{"datum":0.4645,"type":"quantitative","axis":{"values":[10,100,1000,10000,100000],"labelExpr":"'10'+(datum.value<1?'⁻':'')+['⁰','¹','²','³','⁴','⁵','⁶'][round(abs(log(datum.value)/LN10))]","title":"Plasma HIV RNA load c/ml","titlePadding":11,"labelOverlap":false}},"text":{"field":"t","type":"nominal"}}},
  {"data":{"values":[{}]},"mark":{"type":"text","text":"d","fontSize":12,"fontWeight":"bold","color":"#000","baseline":"middle"},"encoding":{"x":{"datum":-1.747,"type":"quantitative","axis":{"values":[1,2,3,4,6,7,8,9],"labels":false,"tickSize":3,"title":null}},"y":{"datum":1667000,"type":"quantitative","axis":{"values":[10,100,1000,10000,100000],"labelExpr":"'10'+(datum.value<1?'⁻':'')+['⁰','¹','²','³','⁴','⁵','⁶'][round(abs(log(datum.value)/LN10))]","title":"Plasma HIV RNA load c/ml","titlePadding":11,"labelOverlap":false}}}}
 ]},
 {"width":65,"height":236.3,"data":{"values":[{}]},"mark":{"type":"text","text":""},"encoding":{}},
 {"width":164,"height":108,"layer":[
  {"data":{"name":"e"},"mark":{"type":"circle","size":30,"color":"#11aa11","opacity":1},"encoding":{"x":{"field":"ic","type":"quantitative","scale":{"type":"log","domain":[0.0001,1.094],"nice":false},"axis":{"values":[0.0001,0.001,0.01,0.1,1],"labelExpr":"'10'+(datum.value<1?'⁻':'')+['⁰','¹','²','³','⁴','⁵','⁶'][round(abs(log(datum.value)/LN10))]","title":"IFN-α IC₅₀ pg ml⁻¹","titlePadding":6,"labelOverlap":false}},"y":{"field":"vl","type":"quantitative","scale":{"type":"log","domain":[10,1000000],"nice":false},"axis":{"values":[10,100,1000,10000,100000,1000000],"labelExpr":"'10'+(datum.value<1?'⁻':'')+['⁰','¹','²','³','⁴','⁵','⁶'][round(abs(log(datum.value)/LN10))]","title":"‘Recent’ MoM pVL","titlePadding":8,"labelOverlap":false}}}},
  {"data":{"values":[{}]},"mark":{"type":"text","text":"r = 0.58, P = 0.004","baseline":"middle","fontSize":7.5,"color":"#333"},"encoding":{"x":{"datum":0.01064,"type":"quantitative","axis":{"values":[0.0001,0.001,0.01,0.1,1],"labelExpr":"'10'+(datum.value<1?'⁻':'')+['⁰','¹','²','³','⁴','⁵','⁶'][round(abs(log(datum.value)/LN10))]","title":"IFN-α IC₅₀ pg ml⁻¹","titlePadding":6,"labelOverlap":false}},"y":{"datum":11250000,"type":"quantitative","axis":{"values":[10,100,1000,10000,100000,1000000],"labelExpr":"'10'+(datum.value<1?'⁻':'')+['⁰','¹','²','³','⁴','⁵','⁶'][round(abs(log(datum.value)/LN10))]","title":"‘Recent’ MoM pVL","titlePadding":8,"labelOverlap":false}}}},
  {"data":{"values":[{}]},"mark":{"type":"text","text":"e","fontSize":12,"fontWeight":"bold","color":"#000","baseline":"middle"},"encoding":{"x":{"datum":0.0000163,"type":"quantitative","axis":{"values":[0.0001,0.001,0.01,0.1,1],"labelExpr":"'10'+(datum.value<1?'⁻':'')+['⁰','¹','²','³','⁴','⁵','⁶'][round(abs(log(datum.value)/LN10))]","title":"IFN-α IC₅₀ pg ml⁻¹","titlePadding":6,"labelOverlap":false}},"y":{"datum":33700000,"type":"quantitative","axis":{"values":[10,100,1000,10000,100000,1000000],"labelExpr":"'10'+(datum.value<1?'⁻':'')+['⁰','¹','²','³','⁴','⁵','⁶'][round(abs(log(datum.value)/LN10))]","title":"‘Recent’ MoM pVL","titlePadding":8,"labelOverlap":false}}}}
 ]},
 {"width":48,"height":1,"data":{"values":[{}]},"mark":{"type":"text","text":""},"encoding":{}},
 {"width":168,"height":108,"layer":[
  {"data":{"name":"f"},"mark":{"type":"circle","size":30,"color":"#11aa11","opacity":1},"encoding":{"x":{"field":"ic","type":"quantitative","scale":{"type":"log","domain":[0.0001,1.374],"nice":false},"axis":{"values":[0.0001,0.001,0.01,0.1,1],"labelExpr":"'10'+(datum.value<1?'⁻':'')+['⁰','¹','²','³','⁴','⁵','⁶'][round(abs(log(datum.value)/LN10))]","title":"IFN-β IC₅₀ pg ml⁻¹","titlePadding":6,"labelOverlap":false}},"y":{"field":"vl","type":"quantitative","scale":{"type":"log","domain":[10,1000000],"nice":false},"axis":{"values":[10,100,1000,10000,100000,1000000],"labelExpr":"'10'+(datum.value<1?'⁻':'')+['⁰','¹','²','³','⁴','⁵','⁶'][round(abs(log(datum.value)/LN10))]","title":"‘Recent’ MoM pVL","titlePadding":9,"labelOverlap":false}}}},
  {"data":{"values":[{}]},"mark":{"type":"text","text":"r = 0.68, P = 0.001","baseline":"middle","fontSize":7.5,"color":"#333"},"encoding":{"x":{"datum":0.01242,"type":"quantitative","axis":{"values":[0.0001,0.001,0.01,0.1,1],"labelExpr":"'10'+(datum.value<1?'⁻':'')+['⁰','¹','²','³','⁴','⁵','⁶'][round(abs(log(datum.value)/LN10))]","title":"IFN-β IC₅₀ pg ml⁻¹","titlePadding":6,"labelOverlap":false}},"y":{"datum":11250000,"type":"quantitative","axis":{"values":[10,100,1000,10000,100000,1000000],"labelExpr":"'10'+(datum.value<1?'⁻':'')+['⁰','¹','²','³','⁴','⁵','⁶'][round(abs(log(datum.value)/LN10))]","title":"‘Recent’ MoM pVL","titlePadding":9,"labelOverlap":false}}}},
  {"data":{"values":[{}]},"mark":{"type":"text","text":"f","fontSize":12,"fontWeight":"bold","color":"#000","baseline":"middle"},"encoding":{"x":{"datum":0.0000172,"type":"quantitative","axis":{"values":[0.0001,0.001,0.01,0.1,1],"labelExpr":"'10'+(datum.value<1?'⁻':'')+['⁰','¹','²','³','⁴','⁵','⁶'][round(abs(log(datum.value)/LN10))]","title":"IFN-β IC₅₀ pg ml⁻¹","titlePadding":6,"labelOverlap":false}},"y":{"datum":33700000,"type":"quantitative","axis":{"values":[10,100,1000,10000,100000,1000000],"labelExpr":"'10'+(datum.value<1?'⁻':'')+['⁰','¹','²','³','⁴','⁵','⁶'][round(abs(log(datum.value)/LN10))]","title":"‘Recent’ MoM pVL","titlePadding":9,"labelOverlap":false}}}}
 ]},
 {"width":171,"height":113.5,"layer":[
  {"data":{"name":"g"},"mark":{"type":"rule","color":"#555","strokeWidth":1.1},"encoding":{"x":{"field":"x","type":"quantitative","scale":{"domain":[0.222,9.722],"nice":false,"zero":false},"axis":{"values":[1,2,3,4,6,7,8,9],"labels":false,"tickSize":3,"title":null}},"y":{"field":"lo","type":"quantitative","scale":{"type":"log","domain":[0.0001,0.1],"nice":false},"axis":{"values":[0.0001,0.001,0.01,0.1],"labelExpr":"'10'+(datum.value<1?'⁻':'')+['⁰','¹','²','³','⁴','⁵','⁶'][round(abs(log(datum.value)/LN10))]","title":"IFN-α IC₅₀ (pg ml⁻¹)","titlePadding":7,"labelOverlap":false}},"y2":{"field":"hi"}}},
  {"data":{"name":"g"},"mark":{"type":"point","shape":"stroke","size":100,"color":"#555","strokeWidth":1.1,"opacity":1},"encoding":{"x":{"field":"x","type":"quantitative","axis":{"values":[1,2,3,4,6,7,8,9],"labels":false,"tickSize":3,"title":null}},"y":{"field":"hi","type":"quantitative","axis":{"values":[0.0001,0.001,0.01,0.1],"labelExpr":"'10'+(datum.value<1?'⁻':'')+['⁰','¹','²','³','⁴','⁵','⁶'][round(abs(log(datum.value)/LN10))]","title":"IFN-α IC₅₀ (pg ml⁻¹)","titlePadding":7,"labelOverlap":false}}}},
  {"data":{"name":"g"},"mark":{"type":"point","shape":"stroke","size":100,"color":"#555","strokeWidth":1.1,"opacity":1},"encoding":{"x":{"field":"x","type":"quantitative","axis":{"values":[1,2,3,4,6,7,8,9],"labels":false,"tickSize":3,"title":null}},"y":{"field":"lo","type":"quantitative","axis":{"values":[0.0001,0.001,0.01,0.1],"labelExpr":"'10'+(datum.value<1?'⁻':'')+['⁰','¹','²','³','⁴','⁵','⁶'][round(abs(log(datum.value)/LN10))]","title":"IFN-α IC₅₀ (pg ml⁻¹)","titlePadding":7,"labelOverlap":false}}}},
  {"data":{"name":"g"},"mark":{"type":"circle","size":144,"opacity":1},"encoding":{"x":{"field":"x","type":"quantitative","axis":{"values":[1,2,3,4,6,7,8,9],"labels":false,"tickSize":3,"title":null}},"y":{"field":"mean","type":"quantitative","axis":{"values":[0.0001,0.001,0.01,0.1],"labelExpr":"'10'+(datum.value<1?'⁻':'')+['⁰','¹','²','³','⁴','⁵','⁶'][round(abs(log(datum.value)/LN10))]","title":"IFN-α IC₅₀ (pg ml⁻¹)","titlePadding":7,"labelOverlap":false}},"fill":{"field":"grp","type":"nominal","scale":{"domain":["Chronic, male","Chronic, female","Recent, male","Recent, female"],"range":["#000000","#1a8cff","#15a815","#d23ef2"]},"legend":null}}},
  {"data":{"name":"g"},"mark":{"type":"text","baseline":"middle","fontSize":7.5,"color":"#333"},"encoding":{"x":{"field":"x","type":"quantitative","axis":{"values":[1,2,3,4,6,7,8,9],"labels":false,"tickSize":3,"title":null}},"y":{"datum":0.0001365,"type":"quantitative","axis":{"values":[0.0001,0.001,0.01,0.1],"labelExpr":"'10'+(datum.value<1?'⁻':'')+['⁰','¹','²','³','⁴','⁵','⁶'][round(abs(log(datum.value)/LN10))]","title":"IFN-α IC₅₀ (pg ml⁻¹)","titlePadding":7,"labelOverlap":false}},"text":{"field":"n","type":"nominal"}}},
  {"data":{"name":"g"},"mark":{"type":"text","baseline":"middle","fontSize":6,"color":"#333"},"encoding":{"x":{"field":"x","type":"quantitative","axis":{"values":[1,2,3,4,6,7,8,9],"labels":false,"tickSize":3,"title":null}},"y":{"datum":0.0000281,"type":"quantitative","axis":{"values":[0.0001,0.001,0.01,0.1],"labelExpr":"'10'+(datum.value<1?'⁻':'')+['⁰','¹','²','³','⁴','⁵','⁶'][round(abs(log(datum.value)/LN10))]","title":"IFN-α IC₅₀ (pg ml⁻¹)","titlePadding":7,"labelOverlap":false}},"text":{"field":"cat","type":"nominal"}}},
  {"data":{"name":"gBr"},"mark":{"type":"rule","color":"#8a8a8a","strokeWidth":1},"encoding":{"x":{"field":"x1","type":"quantitative","axis":{"values":[1,2,3,4,6,7,8,9],"labels":false,"tickSize":3,"title":null}},"x2":{"field":"x2"},"y":{"field":"y","type":"quantitative","axis":{"values":[0.0001,0.001,0.01,0.1],"labelExpr":"'10'+(datum.value<1?'⁻':'')+['⁰','¹','²','³','⁴','⁵','⁶'][round(abs(log(datum.value)/LN10))]","title":"IFN-α IC₅₀ (pg ml⁻¹)","titlePadding":7,"labelOverlap":false}}}},
  {"data":{"name":"gBr"},"mark":{"type":"text","baseline":"bottom","dy":-1.5,"fontSize":7,"color":"#333"},"encoding":{"x":{"field":"xm","type":"quantitative","axis":{"values":[1,2,3,4,6,7,8,9],"labels":false,"tickSize":3,"title":null}},"y":{"field":"y","type":"quantitative","axis":{"values":[0.0001,0.001,0.01,0.1],"labelExpr":"'10'+(datum.value<1?'⁻':'')+['⁰','¹','²','³','⁴','⁵','⁶'][round(abs(log(datum.value)/LN10))]","title":"IFN-α IC₅₀ (pg ml⁻¹)","titlePadding":7,"labelOverlap":false}},"text":{"field":"t","type":"nominal"}}},
  {"data":{"name":"gGrp"},"mark":{"type":"text","baseline":"middle","fontSize":7.5,"color":"#333"},"encoding":{"x":{"field":"x","type":"quantitative","axis":{"values":[1,2,3,4,6,7,8,9],"labels":false,"tickSize":3,"title":null}},"y":{"datum":0.0000561,"type":"quantitative","axis":{"values":[0.0001,0.001,0.01,0.1],"labelExpr":"'10'+(datum.value<1?'⁻':'')+['⁰','¹','²','³','⁴','⁵','⁶'][round(abs(log(datum.value)/LN10))]","title":"IFN-α IC₅₀ (pg ml⁻¹)","titlePadding":7,"labelOverlap":false}},"text":{"field":"t","type":"nominal"}}},
  {"data":{"name":"gBox"},"mark":{"type":"rect","filled":false,"color":"#888","strokeWidth":0.8},"encoding":{"x":{"field":"x1","type":"quantitative","axis":{"values":[1,2,3,4,6,7,8,9],"labels":false,"tickSize":3,"title":null}},"x2":{"field":"x2"},"y":{"datum":0.00001875,"type":"quantitative","axis":{"values":[0.0001,0.001,0.01,0.1],"labelExpr":"'10'+(datum.value<1?'⁻':'')+['⁰','¹','²','³','⁴','⁵','⁶'][round(abs(log(datum.value)/LN10))]","title":"IFN-α IC₅₀ (pg ml⁻¹)","titlePadding":7,"labelOverlap":false}},"y2":{"datum":0.00000753}}},
  {"data":{"name":"gBox"},"mark":{"type":"text","baseline":"middle","fontSize":6,"color":"#333"},"encoding":{"x":{"field":"xm","type":"quantitative","axis":{"values":[1,2,3,4,6,7,8,9],"labels":false,"tickSize":3,"title":null}},"y":{"datum":0.00001175,"type":"quantitative","axis":{"values":[0.0001,0.001,0.01,0.1],"labelExpr":"'10'+(datum.value<1?'⁻':'')+['⁰','¹','²','³','⁴','⁵','⁶'][round(abs(log(datum.value)/LN10))]","title":"IFN-α IC₅₀ (pg ml⁻¹)","titlePadding":7,"labelOverlap":false}},"text":{"field":"t","type":"nominal"}}},
  {"data":{"values":[{}]},"mark":{"type":"text","text":"g","fontSize":12,"fontWeight":"bold","color":"#000","baseline":"middle"},"encoding":{"x":{"datum":-1.694,"type":"quantitative","axis":{"values":[1,2,3,4,6,7,8,9],"labels":false,"tickSize":3,"title":null}},"y":{"datum":5.32,"type":"quantitative","axis":{"values":[0.0001,0.001,0.01,0.1],"labelExpr":"'10'+(datum.value<1?'⁻':'')+['⁰','¹','²','³','⁴','⁵','⁶'][round(abs(log(datum.value)/LN10))]","title":"IFN-α IC₅₀ (pg ml⁻¹)","titlePadding":7,"labelOverlap":false}}}}
 ]},
 {"width":65,"height":1,"data":{"values":[{}]},"mark":{"type":"text","text":""},"encoding":{}},
 {"width":171,"height":113.5,"layer":[
  {"data":{"name":"h"},"mark":{"type":"rule","color":"#555","strokeWidth":1.1},"encoding":{"x":{"field":"x","type":"quantitative","scale":{"domain":[0.313,9.709],"nice":false,"zero":false},"axis":{"values":[1,2,3,4,6,7,8,9],"labels":false,"tickSize":3,"title":null}},"y":{"field":"lo","type":"quantitative","scale":{"type":"log","domain":[0.0001,1],"nice":false},"axis":{"values":[0.0001,0.001,0.01,0.1,1],"labelExpr":"'10'+(datum.value<1?'⁻':'')+['⁰','¹','²','³','⁴','⁵','⁶'][round(abs(log(datum.value)/LN10))]","title":"IFN-β IC₅₀ (pg ml⁻¹)","titlePadding":6.3,"labelOverlap":false}},"y2":{"field":"hi"}}},
  {"data":{"name":"h"},"mark":{"type":"point","shape":"stroke","size":100,"color":"#555","strokeWidth":1.1,"opacity":1},"encoding":{"x":{"field":"x","type":"quantitative","axis":{"values":[1,2,3,4,6,7,8,9],"labels":false,"tickSize":3,"title":null}},"y":{"field":"hi","type":"quantitative","axis":{"values":[0.0001,0.001,0.01,0.1,1],"labelExpr":"'10'+(datum.value<1?'⁻':'')+['⁰','¹','²','³','⁴','⁵','⁶'][round(abs(log(datum.value)/LN10))]","title":"IFN-β IC₅₀ (pg ml⁻¹)","titlePadding":6.3,"labelOverlap":false}}}},
  {"data":{"name":"h"},"mark":{"type":"point","shape":"stroke","size":100,"color":"#555","strokeWidth":1.1,"opacity":1},"encoding":{"x":{"field":"x","type":"quantitative","axis":{"values":[1,2,3,4,6,7,8,9],"labels":false,"tickSize":3,"title":null}},"y":{"field":"lo","type":"quantitative","axis":{"values":[0.0001,0.001,0.01,0.1,1],"labelExpr":"'10'+(datum.value<1?'⁻':'')+['⁰','¹','²','³','⁴','⁵','⁶'][round(abs(log(datum.value)/LN10))]","title":"IFN-β IC₅₀ (pg ml⁻¹)","titlePadding":6.3,"labelOverlap":false}}}},
  {"data":{"name":"h"},"mark":{"type":"circle","size":128,"opacity":1},"encoding":{"x":{"field":"x","type":"quantitative","axis":{"values":[1,2,3,4,6,7,8,9],"labels":false,"tickSize":3,"title":null}},"y":{"field":"mean","type":"quantitative","axis":{"values":[0.0001,0.001,0.01,0.1,1],"labelExpr":"'10'+(datum.value<1?'⁻':'')+['⁰','¹','²','³','⁴','⁵','⁶'][round(abs(log(datum.value)/LN10))]","title":"IFN-β IC₅₀ (pg ml⁻¹)","titlePadding":6.3,"labelOverlap":false}},"fill":{"field":"grp","type":"nominal","scale":{"domain":["Chronic, male","Chronic, female","Recent, male","Recent, female"],"range":["#000000","#1a8cff","#15a815","#d23ef2"]},"legend":null}}},
  {"data":{"name":"h"},"mark":{"type":"text","baseline":"middle","fontSize":7.5,"color":"#333"},"encoding":{"x":{"field":"x","type":"quantitative","axis":{"values":[1,2,3,4,6,7,8,9],"labels":false,"tickSize":3,"title":null}},"y":{"datum":0.0001514,"type":"quantitative","axis":{"values":[0.0001,0.001,0.01,0.1,1],"labelExpr":"'10'+(datum.value<1?'⁻':'')+['⁰','¹','²','³','⁴','⁵','⁶'][round(abs(log(datum.value)/LN10))]","title":"IFN-β IC₅₀ (pg ml⁻¹)","titlePadding":6.3,"labelOverlap":false}},"text":{"field":"n","type":"nominal"}}},
  {"data":{"name":"h"},"mark":{"type":"text","baseline":"middle","fontSize":6,"color":"#333"},"encoding":{"x":{"field":"x","type":"quantitative","axis":{"values":[1,2,3,4,6,7,8,9],"labels":false,"tickSize":3,"title":null}},"y":{"datum":0.00001832,"type":"quantitative","axis":{"values":[0.0001,0.001,0.01,0.1,1],"labelExpr":"'10'+(datum.value<1?'⁻':'')+['⁰','¹','²','³','⁴','⁵','⁶'][round(abs(log(datum.value)/LN10))]","title":"IFN-β IC₅₀ (pg ml⁻¹)","titlePadding":6.3,"labelOverlap":false}},"text":{"field":"cat","type":"nominal"}}},
  {"data":{"name":"hBr"},"mark":{"type":"rule","color":"#8a8a8a","strokeWidth":1},"encoding":{"x":{"field":"x1","type":"quantitative","axis":{"values":[1,2,3,4,6,7,8,9],"labels":false,"tickSize":3,"title":null}},"x2":{"field":"x2"},"y":{"field":"y","type":"quantitative","axis":{"values":[0.0001,0.001,0.01,0.1,1],"labelExpr":"'10'+(datum.value<1?'⁻':'')+['⁰','¹','²','³','⁴','⁵','⁶'][round(abs(log(datum.value)/LN10))]","title":"IFN-β IC₅₀ (pg ml⁻¹)","titlePadding":6.3,"labelOverlap":false}}}},
  {"data":{"name":"hBr"},"mark":{"type":"text","baseline":"bottom","dy":-1.5,"fontSize":7,"color":"#333"},"encoding":{"x":{"field":"xm","type":"quantitative","axis":{"values":[1,2,3,4,6,7,8,9],"labels":false,"tickSize":3,"title":null}},"y":{"field":"y","type":"quantitative","axis":{"values":[0.0001,0.001,0.01,0.1,1],"labelExpr":"'10'+(datum.value<1?'⁻':'')+['⁰','¹','²','³','⁴','⁵','⁶'][round(abs(log(datum.value)/LN10))]","title":"IFN-β IC₅₀ (pg ml⁻¹)","titlePadding":6.3,"labelOverlap":false}},"text":{"field":"t","type":"nominal"}}},
  {"data":{"name":"hGrp"},"mark":{"type":"text","baseline":"middle","fontSize":7.5,"color":"#333"},"encoding":{"x":{"field":"x","type":"quantitative","axis":{"values":[1,2,3,4,6,7,8,9],"labels":false,"tickSize":3,"title":null}},"y":{"datum":0.0000462,"type":"quantitative","axis":{"values":[0.0001,0.001,0.01,0.1,1],"labelExpr":"'10'+(datum.value<1?'⁻':'')+['⁰','¹','²','³','⁴','⁵','⁶'][round(abs(log(datum.value)/LN10))]","title":"IFN-β IC₅₀ (pg ml⁻¹)","titlePadding":6.3,"labelOverlap":false}},"text":{"field":"t","type":"nominal"}}},
  {"data":{"name":"hBox"},"mark":{"type":"rect","filled":false,"color":"#888","strokeWidth":0.8},"encoding":{"x":{"field":"x1","type":"quantitative","axis":{"values":[1,2,3,4,6,7,8,9],"labels":false,"tickSize":3,"title":null}},"x2":{"field":"x2"},"y":{"datum":0.00001074,"type":"quantitative","axis":{"values":[0.0001,0.001,0.01,0.1,1],"labelExpr":"'10'+(datum.value<1?'⁻':'')+['⁰','¹','²','³','⁴','⁵','⁶'][round(abs(log(datum.value)/LN10))]","title":"IFN-β IC₅₀ (pg ml⁻¹)","titlePadding":6.3,"labelOverlap":false}},"y2":{"datum":0.00000318}}},
  {"data":{"name":"hBox"},"mark":{"type":"text","baseline":"middle","fontSize":6,"color":"#333"},"encoding":{"x":{"field":"xm","type":"quantitative","axis":{"values":[1,2,3,4,6,7,8,9],"labels":false,"tickSize":3,"title":null}},"y":{"datum":0.00000575,"type":"quantitative","axis":{"values":[0.0001,0.001,0.01,0.1,1],"labelExpr":"'10'+(datum.value<1?'⁻':'')+['⁰','¹','²','³','⁴','⁵','⁶'][round(abs(log(datum.value)/LN10))]","title":"IFN-β IC₅₀ (pg ml⁻¹)","titlePadding":6.3,"labelOverlap":false}},"text":{"field":"t","type":"nominal"}}},
  {"data":{"values":[{}]},"mark":{"type":"text","text":"h","fontSize":12,"fontWeight":"bold","color":"#000","baseline":"middle"},"encoding":{"x":{"datum":-1.445,"type":"quantitative","axis":{"values":[1,2,3,4,6,7,8,9],"labels":false,"tickSize":3,"title":null}},"y":{"datum":200,"type":"quantitative","axis":{"values":[0.0001,0.001,0.01,0.1,1],"labelExpr":"'10'+(datum.value<1?'⁻':'')+['⁰','¹','²','³','⁴','⁵','⁶'][round(abs(log(datum.value)/LN10))]","title":"IFN-β IC₅₀ (pg ml⁻¹)","titlePadding":6.3,"labelOverlap":false}}}}
 ]},
 {"width":48,"height":1,"data":{"values":[{}]},"mark":{"type":"text","text":""},"encoding":{}},
 {"width":178.3,"height":113.5,"resolve":{"scale":{"y":"independent"}},"layer":[
  {"layer":[
   {"data":{"name":"iM"},"mark":{"type":"rule","strokeWidth":1.1},"encoding":{"x":{"field":"x","type":"quantitative","scale":{"domain":[-0.105,9.746],"nice":false,"zero":false},"axis":{"values":[1,2,3,4,6,7,8,9],"labels":false,"tickSize":3,"title":null,"domain":false}},"y":{"field":"lo","type":"quantitative","scale":{"domain":[0,750],"nice":false,"zero":false},"axis":{"values":[0,250,500,750],"format":"d","title":"Absolute CD4 c/ul (mother)","offset":-7.7,"titlePadding":10,"labelOverlap":false}},"y2":{"field":"hi"},"stroke":{"field":"id","type":"nominal","scale":{"domain":["MoM chronic","MoF chronic","MoM recent","MoF recent","M chronic","F chronic","M recent","F recent"],"range":["#222222","#9fd2f6","#7fd47f","#e9a0f5","#333333","#3b9bdb","#a9e2a9","#e48df2"]},"legend":null}}},
   {"data":{"name":"iM"},"mark":{"type":"point","shape":"stroke","size":100,"strokeWidth":1.1,"opacity":1},"encoding":{"x":{"field":"x","type":"quantitative","axis":{"values":[1,2,3,4,6,7,8,9],"labels":false,"tickSize":3,"title":null,"domain":false}},"y":{"field":"hi","type":"quantitative","axis":{"values":[0,250,500,750],"format":"d","title":"Absolute CD4 c/ul (mother)","offset":-7.7,"titlePadding":10,"labelOverlap":false}},"stroke":{"field":"id","type":"nominal","legend":null}}},
   {"data":{"name":"iM"},"mark":{"type":"point","shape":"stroke","size":100,"strokeWidth":1.1,"opacity":1},"encoding":{"x":{"field":"x","type":"quantitative","axis":{"values":[1,2,3,4,6,7,8,9],"labels":false,"tickSize":3,"title":null,"domain":false}},"y":{"field":"lo","type":"quantitative","axis":{"values":[0,250,500,750],"format":"d","title":"Absolute CD4 c/ul (mother)","offset":-7.7,"titlePadding":10,"labelOverlap":false}},"stroke":{"field":"id","type":"nominal","legend":null}}},
   {"data":{"name":"iM"},"mark":{"type":"circle","size":115,"opacity":1},"encoding":{"x":{"field":"x","type":"quantitative","axis":{"values":[1,2,3,4,6,7,8,9],"labels":false,"tickSize":3,"title":null,"domain":false}},"y":{"field":"mean","type":"quantitative","axis":{"values":[0,250,500,750],"format":"d","title":"Absolute CD4 c/ul (mother)","offset":-7.7,"titlePadding":10,"labelOverlap":false}},"fill":{"field":"grp","type":"nominal","scale":{"domain":["Chronic, male","Chronic, female","Recent, male","Recent, female"],"range":["#000000","#1a8cff","#15a815","#d23ef2"]},"legend":null}}},
   {"data":{"name":"iM"},"mark":{"type":"text","baseline":"middle","fontSize":7.5,"color":"#333"},"encoding":{"x":{"field":"x","type":"quantitative","axis":{"values":[1,2,3,4,6,7,8,9],"labels":false,"tickSize":3,"title":null,"domain":false}},"y":{"datum":33.7,"type":"quantitative","axis":{"values":[0,250,500,750],"format":"d","title":"Absolute CD4 c/ul (mother)","offset":-7.7,"titlePadding":10,"labelOverlap":false}},"text":{"field":"n","type":"nominal"}}},
   {"data":{"name":"iM"},"mark":{"type":"text","baseline":"middle","fontSize":6,"color":"#333"},"encoding":{"x":{"field":"x","type":"quantitative","axis":{"values":[1,2,3,4,6,7,8,9],"labels":false,"tickSize":3,"title":null,"domain":false}},"y":{"datum":-138.1,"type":"quantitative","axis":{"values":[0,250,500,750],"format":"d","title":"Absolute CD4 c/ul (mother)","offset":-7.7,"titlePadding":10,"labelOverlap":false}},"text":{"field":"cat","type":"nominal"}}},
   {"data":{"name":"iBr"},"mark":{"type":"rule","color":"#8a8a8a","strokeWidth":1},"encoding":{"x":{"field":"x1","type":"quantitative","axis":{"values":[1,2,3,4,6,7,8,9],"labels":false,"tickSize":3,"title":null,"domain":false}},"x2":{"field":"x2"},"y":{"field":"y","type":"quantitative","axis":{"values":[0,250,500,750],"format":"d","title":"Absolute CD4 c/ul (mother)","offset":-7.7,"titlePadding":10,"labelOverlap":false}}}},
   {"data":{"name":"iBr"},"mark":{"type":"text","baseline":"bottom","dy":-1.5,"fontSize":7,"color":"#333"},"encoding":{"x":{"field":"xm","type":"quantitative","axis":{"values":[1,2,3,4,6,7,8,9],"labels":false,"tickSize":3,"title":null,"domain":false}},"y":{"field":"y","type":"quantitative","axis":{"values":[0,250,500,750],"format":"d","title":"Absolute CD4 c/ul (mother)","offset":-7.7,"titlePadding":10,"labelOverlap":false}},"text":{"field":"t","type":"nominal"}}},
   {"data":{"name":"iDrop"},"mark":{"type":"rule","color":"#8a8a8a","strokeWidth":1},"encoding":{"x":{"field":"x","type":"quantitative","axis":{"values":[1,2,3,4,6,7,8,9],"labels":false,"tickSize":3,"title":null,"domain":false}},"y":{"field":"y1","type":"quantitative","axis":{"values":[0,250,500,750],"format":"d","title":"Absolute CD4 c/ul (mother)","offset":-7.7,"titlePadding":10,"labelOverlap":false}},"y2":{"field":"y2"}}},
   {"data":{"name":"iGrp"},"mark":{"type":"text","baseline":"middle","fontSize":7.5,"color":"#333"},"encoding":{"x":{"field":"x","type":"quantitative","axis":{"values":[1,2,3,4,6,7,8,9],"labels":false,"tickSize":3,"title":null,"domain":false}},"y":{"datum":-62.8,"type":"quantitative","axis":{"values":[0,250,500,750],"format":"d","title":"Absolute CD4 c/ul (mother)","offset":-7.7,"titlePadding":10,"labelOverlap":false}},"text":{"field":"t","type":"nominal"}}},
   {"data":{"name":"iBox"},"mark":{"type":"rect","filled":false,"color":"#888","strokeWidth":0.8},"encoding":{"x":{"field":"x1","type":"quantitative","axis":{"values":[1,2,3,4,6,7,8,9],"labels":false,"tickSize":3,"title":null,"domain":false}},"x2":{"field":"x2"},"y":{"datum":-181.7,"type":"quantitative","axis":{"values":[0,250,500,750],"format":"d","title":"Absolute CD4 c/ul (mother)","offset":-7.7,"titlePadding":10,"labelOverlap":false}},"y2":{"datum":-280.8}}},
   {"data":{"name":"iBox"},"mark":{"type":"text","baseline":"middle","fontSize":6,"color":"#333"},"encoding":{"x":{"field":"xm","type":"quantitative","axis":{"values":[1,2,3,4,6,7,8,9],"labels":false,"tickSize":3,"title":null,"domain":false}},"y":{"datum":-232.6,"type":"quantitative","axis":{"values":[0,250,500,750],"format":"d","title":"Absolute CD4 c/ul (mother)","offset":-7.7,"titlePadding":10,"labelOverlap":false}},"text":{"field":"t","type":"nominal"}}},
   {"data":{"values":[{}]},"mark":{"type":"rule","color":"#666","strokeWidth":1},"encoding":{"x":{"datum":0.32,"type":"quantitative","axis":{"values":[1,2,3,4,6,7,8,9],"labels":false,"tickSize":3,"title":null,"domain":false}},"x2":{"datum":9.746},"y":{"datum":0,"type":"quantitative","axis":{"values":[0,250,500,750],"format":"d","title":"Absolute CD4 c/ul (mother)","offset":-7.7,"titlePadding":10,"labelOverlap":false}}}},
   {"data":{"values":[{}]},"mark":{"type":"text","text":"i","fontSize":12,"fontWeight":"bold","color":"#000","baseline":"middle"},"encoding":{"x":{"datum":-1.707,"type":"quantitative","axis":{"values":[1,2,3,4,6,7,8,9],"labels":false,"tickSize":3,"title":null,"domain":false}},"y":{"datum":1181.5,"type":"quantitative","axis":{"values":[0,250,500,750],"format":"d","title":"Absolute CD4 c/ul (mother)","offset":-7.7,"titlePadding":10,"labelOverlap":false}}}}
  ]},
  {"layer":[
   {"data":{"name":"iC"},"mark":{"type":"rule","strokeWidth":1.1},"encoding":{"x":{"field":"x","type":"quantitative","scale":{"domain":[-0.105,9.746],"nice":false,"zero":false},"axis":{"values":[1,2,3,4,6,7,8,9],"labels":false,"tickSize":3,"title":null,"domain":false}},"y":{"field":"lo","type":"quantitative","scale":{"domain":[0,3000],"nice":false,"zero":false},"axis":{"orient":"right","values":[0,1000,2000,3000],"format":",.0f","title":"Absolute CD4 c/ul (children)","titlePadding":12.5,"labelOverlap":false}},"y2":{"field":"hi"},"stroke":{"field":"id","type":"nominal","scale":{"domain":["MoM chronic","MoF chronic","MoM recent","MoF recent","M chronic","F chronic","M recent","F recent"],"range":["#222222","#9fd2f6","#7fd47f","#e9a0f5","#333333","#3b9bdb","#a9e2a9","#e48df2"]},"legend":null}}},
   {"data":{"name":"iC"},"mark":{"type":"point","shape":"stroke","size":100,"strokeWidth":1.1,"opacity":1},"encoding":{"x":{"field":"x","type":"quantitative","axis":{"values":[1,2,3,4,6,7,8,9],"labels":false,"tickSize":3,"title":null,"domain":false}},"y":{"field":"hi","type":"quantitative","axis":{"orient":"right","values":[0,1000,2000,3000],"format":",.0f","title":"Absolute CD4 c/ul (children)","titlePadding":12.5,"labelOverlap":false}},"stroke":{"field":"id","type":"nominal","legend":null}}},
   {"data":{"name":"iC"},"mark":{"type":"point","shape":"stroke","size":100,"strokeWidth":1.1,"opacity":1},"encoding":{"x":{"field":"x","type":"quantitative","axis":{"values":[1,2,3,4,6,7,8,9],"labels":false,"tickSize":3,"title":null,"domain":false}},"y":{"field":"lo","type":"quantitative","axis":{"orient":"right","values":[0,1000,2000,3000],"format":",.0f","title":"Absolute CD4 c/ul (children)","titlePadding":12.5,"labelOverlap":false}},"stroke":{"field":"id","type":"nominal","legend":null}}},
   {"data":{"name":"iC"},"mark":{"type":"circle","size":115,"opacity":1},"encoding":{"x":{"field":"x","type":"quantitative","axis":{"values":[1,2,3,4,6,7,8,9],"labels":false,"tickSize":3,"title":null,"domain":false}},"y":{"field":"mean","type":"quantitative","axis":{"orient":"right","values":[0,1000,2000,3000],"format":",.0f","title":"Absolute CD4 c/ul (children)","titlePadding":12.5,"labelOverlap":false}},"fill":{"field":"grp","type":"nominal","scale":{"domain":["Chronic, male","Chronic, female","Recent, male","Recent, female"],"range":["#000000","#1a8cff","#15a815","#d23ef2"]},"legend":null}}},
   {"data":{"name":"iC"},"mark":{"type":"text","baseline":"middle","fontSize":7.5,"color":"#333"},"encoding":{"x":{"field":"x","type":"quantitative","axis":{"values":[1,2,3,4,6,7,8,9],"labels":false,"tickSize":3,"title":null,"domain":false}},"y":{"datum":134.8,"type":"quantitative","axis":{"orient":"right","values":[0,1000,2000,3000],"format":",.0f","title":"Absolute CD4 c/ul (children)","titlePadding":12.5,"labelOverlap":false}},"text":{"field":"n","type":"nominal"}}},
   {"data":{"name":"iC"},"mark":{"type":"text","baseline":"middle","fontSize":6,"color":"#333"},"encoding":{"x":{"field":"x","type":"quantitative","axis":{"values":[1,2,3,4,6,7,8,9],"labels":false,"tickSize":3,"title":null,"domain":false}},"y":{"datum":-552.4,"type":"quantitative","axis":{"orient":"right","values":[0,1000,2000,3000],"format":",.0f","title":"Absolute CD4 c/ul (children)","titlePadding":12.5,"labelOverlap":false}},"text":{"field":"cat","type":"nominal"}}}
  ]}
 ]}
]
}
